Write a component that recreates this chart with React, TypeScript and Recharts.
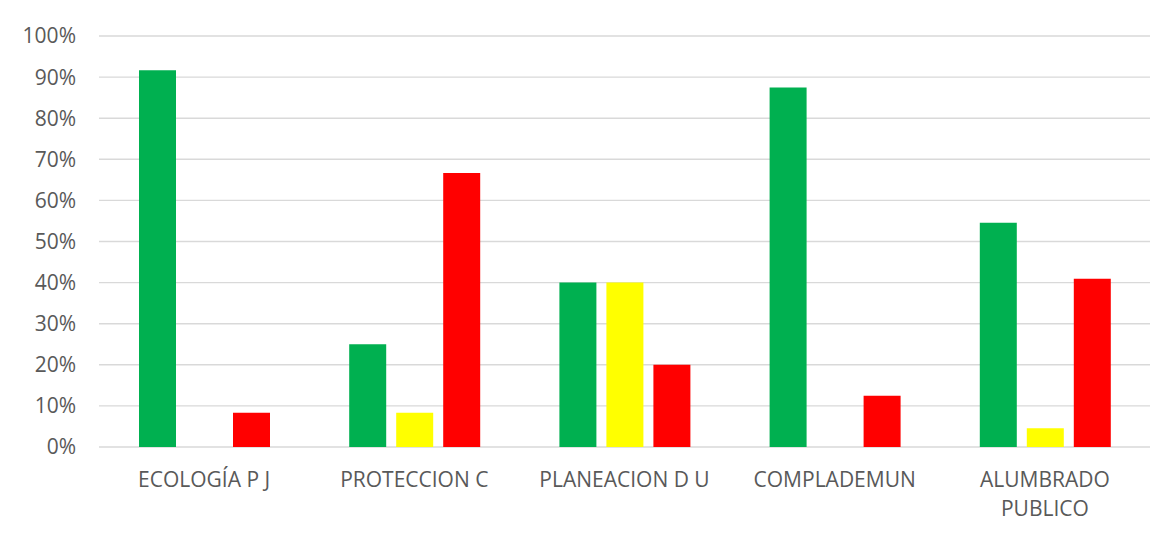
import { BarChart, Bar, XAxis, YAxis, CartesianGrid } from "recharts";

const categories = [
  "ECOLOGÍA P J",
  "PROTECCION C",
  "PLANEACION D U",
  "COMPLADEMUN",
  "ALUMBRADO PUBLICO",
];
const verde = [91.67, 25, 40, 87.5, 54.55];
const amarillo = [0, 8.33, 40, 0, 4.55];
const rojo = [8.33, 66.67, 20, 12.5, 40.91];
const yTicks = [0, 10, 20, 30, 40, 50, 60, 70, 80, 90, 100];

const data = categories.map((name, i) => ({
  name,
  verde: verde[i],
  amarillo: amarillo[i],
  rojo: rojo[i],
}));

const FONT = "'Open Sans', sans-serif";
const TEXT_COLOR = "#595959";
const FONT_SIZE = 21;

// las etiquetas largas se parten en dos líneas (como en Excel)
function splitLabel(label: string): string[] {
  if (label.length <= 15) return [label];
  const cut = label.lastIndexOf(" ");
  return [label.slice(0, cut), label.slice(cut + 1)];
}

function CategoryTick(props: any) {
  const { x, y, payload } = props;
  const lines = splitLabel(String(payload.value));
  return (
    <text
      x={x}
      y={y}
      textAnchor="middle"
      fill={TEXT_COLOR}
      fontSize={FONT_SIZE}
      fontFamily={FONT}
    >
      {lines.map((l, i) => (
        <tspan key={i} x={x} dy={i === 0 ? 15 : 29}>
          {l}
        </tspan>
      ))}
    </text>
  );
}

export default function App() {
  return (
    <div
      style={{
        width: 1166,
        height: 526,
        marginLeft: -3,
        marginTop: -1,
        borderTop: "1px solid #d9d9d9",
        borderLeft: "1px solid #d9d9d9",
        background: "#fff",
      }}
    >
      <BarChart
        width={1166}
        height={525}
        data={data}
        margin={{ top: 28, right: 22, left: 33, bottom: 26 }}
        barSize={37}
        barGap={10}
      >
        <CartesianGrid vertical={false} stroke="#d9d9d9" strokeWidth={1.4} />
        <XAxis
          dataKey="name"
          axisLine={false}
          tickLine={false}
          tickSize={0}
          tickMargin={25}
          height={60}
          interval={0}
          tick={<CategoryTick />}
        />
        <YAxis
          domain={[0, 100]}
          ticks={yTicks}
          width={60}
          axisLine={false}
          tickLine={false}
          tickSize={0}
          tickMargin={23}
          tickFormatter={(v: number) => `${v}%`}
          tick={{ fill: TEXT_COLOR, fontSize: FONT_SIZE, fontFamily: FONT }}
        />
        <Bar dataKey="verde" fill="#00B050" isAnimationActive={false} />
        <Bar dataKey="amarillo" fill="#FFFF00" isAnimationActive={false} />
        <Bar dataKey="rojo" fill="#FF0000" isAnimationActive={false} />
      </BarChart>
    </div>
  );
}
